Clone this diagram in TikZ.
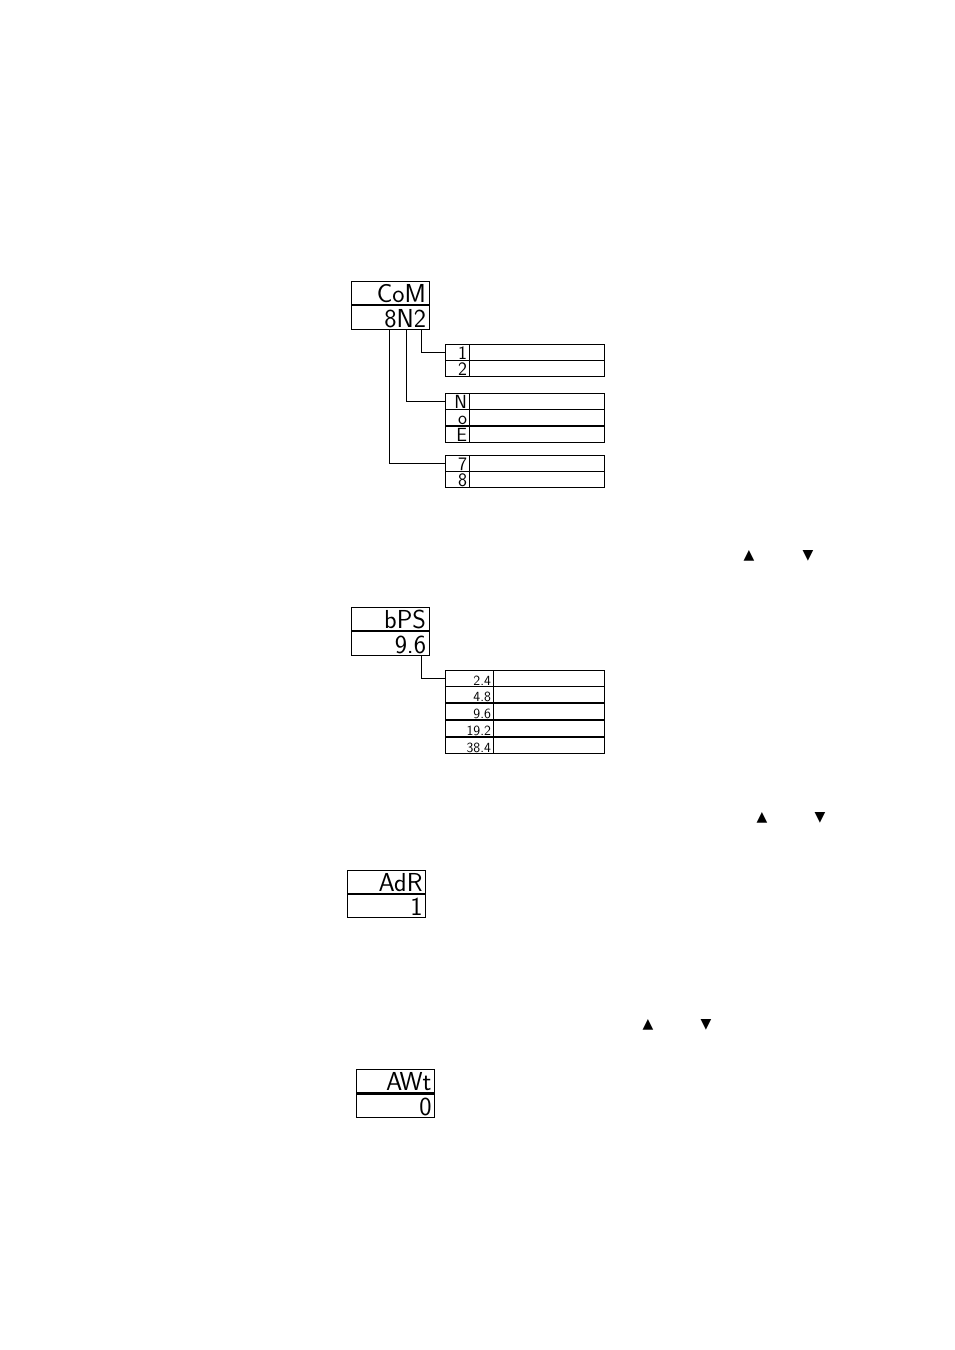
\documentclass[tikz,border=0pt]{standalone}
\usepackage{fontspec}
\newfontfamily\symfont{DejaVu Sans}
\usetikzlibrary{positioning}

\begin{document}
\begin{tikzpicture}[x=1pt,y=-1pt,
    disp/.style={draw, line width=0.9pt, minimum width=78pt, text width=72pt, align=right,
        inner xsep=3pt, inner ysep=0pt, text height=21.5pt, text depth=2pt,
        font=\sffamily\fontsize{26}{26}\selectfont},
    keycell/.style={draw, line width=0.8pt, text width=#1, align=right, inner xsep=2pt,
        inner ysep=1pt, text height=14pt, text depth=0pt, font=\sffamily\fontsize{19}{19}\selectfont},
    valcell/.style={draw, line width=0.8pt, minimum width=#1, minimum height=16pt, inner sep=0pt},
    bpsfont/.style={font=\sffamily\fontsize{14}{14}\selectfont},
    link/.style={draw, line width=0.8pt},
    keysym/.style={font=\symfont\fontsize{14}{14}\selectfont, inner sep=0pt}]
    \useasboundingbox (0,0) rectangle (954,1350);

    % communication format
    \node[disp] (comT) at (390,293) {CoM};
    \node[disp, below=0pt of comT] (comB) {8N2};
    \node[keycell=20pt] (stop1) at (457,352) {1};
    \node[valcell=135pt, right=0pt of stop1] (stop1v) {};
    \node[keycell=20pt, below=0pt of stop1] (stop2) {2};
    \node[valcell=135pt, right=0pt of stop2] (stop2v) {};
    \node[keycell=20pt] (parN) at (457,401) {N};
    \node[valcell=135pt, right=0pt of parN] (parNv) {};
    \node[keycell=20pt, below=0pt of parN] (parO) {o};
    \node[valcell=135pt, right=0pt of parO] (parOv) {};
    \node[keycell=20pt, below=0pt of parO] (parE) {E};
    \node[valcell=135pt, right=0pt of parE] (parEv) {};
    \node[keycell=20pt] (bit7) at (457,463) {7};
    \node[valcell=135pt, right=0pt of bit7] (bit7v) {};
    \node[keycell=20pt, below=0pt of bit7] (bit8) {8};
    \node[valcell=135pt, right=0pt of bit8] (bit8v) {};
    \draw[link] ([xshift=31pt]comB.south) |- (stop1.west);
    \draw[link] ([xshift=16pt]comB.south) |- (parN.west);
    \draw[link] ([xshift=-1pt]comB.south) |- (bit7.west);
    \node[keysym] (up1) at (749,556) {▲};
    \node[keysym] (down1) at (808,556) {▼};

    % baud rate
    \node[disp] (bpsT) at (390,619) {bPS};
    \node[disp, below=0pt of bpsT] (bpsB) {9.6};
    \node[keycell=44pt, bpsfont] (bps1) at (469,678) {2.4};
    \node[valcell=111pt, right=0pt of bps1] (bps1v) {};
    \node[keycell=44pt, bpsfont, below=0pt of bps1] (bps2) {4.8};
    \node[valcell=111pt, right=0pt of bps2] (bps2v) {};
    \node[keycell=44pt, bpsfont, below=0pt of bps2] (bps3) {9.6};
    \node[valcell=111pt, right=0pt of bps3] (bps3v) {};
    \node[keycell=44pt, bpsfont, below=0pt of bps3] (bps4) {19.2};
    \node[valcell=111pt, right=0pt of bps4] (bps4v) {};
    \node[keycell=44pt, bpsfont, below=0pt of bps4] (bps5) {38.4};
    \node[valcell=111pt, right=0pt of bps5] (bps5v) {};
    \draw[link] ([xshift=31pt]bpsB.south) |- (bps1.west);
    \node[keysym] (up2) at (762,818) {▲};
    \node[keysym] (down2) at (820,818) {▼};

    % address
    \node[disp] (adrT) at (386.5,881.75) {AdR};
    \node[disp, below=0pt of adrT] (adrB) {1};
    \node[keysym] (up3) at (648,1025) {▲};
    \node[keysym] (down3) at (706,1025) {▼};

    % answer delay
    \node[disp, line width=1.4pt] (awtT) at (395.5,1081) {AWt};
    \node[disp, line width=1.4pt, below=0pt of awtT] (awtB) {0};
\end{tikzpicture}
\end{document}
